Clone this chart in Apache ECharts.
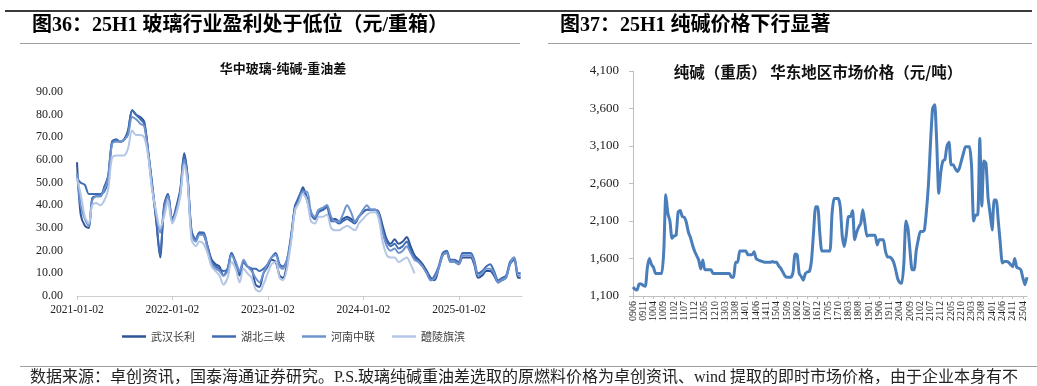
<!DOCTYPE html>
<html>
<head>
<meta charset="utf-8">
<script src="https://cdn.jsdelivr.net/npm/echarts@6/dist/echarts.min.js"></script>
<style>
html,body{margin:0;padding:0;background:#fff;}
#main{width:1037px;height:386px;}
</style>
</head>
<body>
<div id="main"></div>
<script>
// ---------- Left chart data: 华中玻璃-纯碱-重油差 (元/重箱) ----------
const leftDates = [
'2021-01-02','2021-01-16','2021-02-01','2021-02-16','2021-03-01','2021-03-16','2021-04-01','2021-04-16','2021-05-01','2021-05-16',
'2021-06-01','2021-06-16','2021-07-01','2021-07-16','2021-08-01','2021-08-16','2021-09-01','2021-09-16','2021-10-01','2021-10-16',
'2021-11-01','2021-11-16','2021-12-01','2021-12-16','2022-01-01','2022-01-16','2022-02-01','2022-02-16','2022-03-01','2022-03-16',
'2022-04-01','2022-04-16','2022-05-01','2022-05-16','2022-06-01','2022-06-16','2022-07-01','2022-07-16','2022-08-01','2022-08-16',
'2022-09-01','2022-09-16','2022-10-01','2022-10-16','2022-11-01','2022-11-16','2022-12-01','2022-12-16','2023-01-01','2023-01-16',
'2023-02-01','2023-02-16','2023-03-01','2023-03-16','2023-04-01','2023-04-16','2023-05-01','2023-05-16','2023-06-01','2023-06-16',
'2023-07-01','2023-07-16','2023-08-01','2023-08-16','2023-09-01','2023-09-16','2023-10-01','2023-10-16','2023-11-01','2023-11-16',
'2023-12-01','2023-12-16','2024-01-01','2024-01-16','2024-02-01','2024-02-16','2024-03-01','2024-03-16','2024-04-01','2024-04-16',
'2024-05-01','2024-05-16','2024-06-01','2024-06-16','2024-07-01','2024-07-16','2024-08-01','2024-08-16','2024-09-01','2024-09-16',
'2024-10-01','2024-10-16','2024-11-01','2024-11-16','2024-12-01','2024-12-16','2025-01-01','2025-01-16','2025-02-01','2025-02-16',
'2025-03-01','2025-03-16','2025-04-01','2025-04-16','2025-05-01','2025-05-16','2025-06-01','2025-06-16','2025-07-01','2025-07-16',
'2025-08-01','2025-08-16','2025-08-26'
];
const wuhanChangli = [
59,36,31,30,43,44,44,48,53,68, 69,68,69,73,82,80,79,77,64,49,
33,17,40,45,33,39,47,63,53,29, 25,28,27,22,16,14,13,9,12,19,
15,9,15,13,12,5,4,10,13,16, 15,9,8,14,26,40,43,48,43,37,
34,38,38,40,34,34,33,34,35,34, 33,35,37,38,38,38,37,31,25,23,
25,23,24,26,22,18,16,14,11,8, 7,12,18,19,15,15,14,17,17,17,
14,8,9,11,11,9,6,7,8,14, 16,8,8
];
const hubeiSanxia = [
52,50,49,45,45,45,45,46,51,68, 69,68,69,72,82,80,78,76,64,50,
34,18,39,45,34,38,46,62,52,28, 25,28,28,22,15,13,12,11,12,19,
14,10,15,13,12,12,11,12,14,17, 19,14,13,16,27,39,44,47,42,36,
34,37,38,39,33,33,32,33,34,33, 32,35,37,38,38,38,36,29,24,22,
23,21,22,24,20,17,15,13,10,7, 9,13,19,20,16,16,15,19,19,19,
16,10,11,13,14,11,7,8,9,15, 17,10,10
];
const henanZhonglian = [
54,40,34,31,42,44,44,47,52,67, 68,68,69,71,79,78,76,75,63,48,
36,28,38,44,33,37,45,60,52,27, 24,27,27,21,14,12,11,9,11,18,
15,11,16,13,11,8,6,10,14,17, 18,13,12,16,25,38,42,46,46,37,
35,38,39,40,35,33,33,36,40,37, 33,35,38,40,38,38,36,28,22,20,
21,19,20,22,19,16,15,13,10,7, 8,12,18,19,15,15,14,18,18,18,
15,9,10,12,12,10,6,7,8,14, 17,9,9
];
const lilingQibin = [
52,45,35,32,40,41,40,42,47,61, 62,62,62,65,73,71,71,70,62,47,
37,30,35,42,32,36,44,58,50,25, 22,24,23,19,13,11,9,5,8,15,
12,6,12,10,8,3,2,5,10,14, 15,8,7,12,24,38,41,45,42,33,
32,35,35,36,30,29,29,30,31,30, 29,32,34,36,37,37,34,24,18,17,
17,15,16,17,14,10
];
const leftSeriesNames = ['武汉长利','湖北三峡','河南中联','醴陵旗滨'];
const leftTickDates = ['2021-01-02','2022-01-02','2023-01-02','2024-01-02','2025-01-02'];

// ---------- Right chart data: 纯碱（重质）华东地区市场价格（元/吨） ----------
const rightMonths = [
'0906','0907','0908','0909','0910','0911','0912',
'1001','1002','1003','1004','1005','1006','1007','1008','1009','1010','1011','1012',
'1101','1102','1103','1104','1105','1106','1107','1108','1109','1110','1111','1112',
'1201','1202','1203','1204','1205','1206','1207','1208','1209','1210','1211','1212',
'1301','1302','1303','1304','1305','1306','1307','1308','1309','1310','1311','1312',
'1401','1402','1403','1404','1405','1406','1407','1408','1409','1410','1411','1412',
'1501','1502','1503','1504','1505','1506','1507','1508','1509','1510','1511','1512',
'1601','1602','1603','1604','1605','1606','1607','1608','1609','1610','1611','1612',
'1701','1702','1703','1704','1705','1706','1707','1708','1709','1710','1711','1712',
'1801','1802','1803','1804','1805','1806','1807','1808','1809','1810','1811','1812',
'1901','1902','1903','1904','1905','1906','1907','1908','1909','1910','1911','1912',
'2001','2002','2003','2004','2005','2006','2007','2008','2009','2010','2011','2012',
'2101','2102','2103','2104','2105','2106','2107','2108','2109','2110','2111','2112',
'2201','2202','2203','2204','2205','2206','2207','2208','2209','2210','2211','2212',
'2301','2302','2303','2304','2305','2306','2307','2308','2309','2310','2311','2312',
'2401','2402','2403','2404','2405','2406','2407','2408','2409','2410','2411','2412',
'2501','2502','2503','2504','2505','2506'
];
const sodaAshPrice = [
1220,1190,1180,1260,1260,1240,1230,1480,1600,1520,
1480,1400,1400,1400,1400,1700,2450,2200,2100,1870,
1900,1910,2220,2240,2160,2150,2080,1950,1880,1780,
1700,1640,1580,1460,1580,1450,1450,1450,1450,1400,
1400,1400,1400,1400,1400,1400,1400,1400,1350,1350,
1550,1550,1700,1700,1700,1700,1650,1650,1650,1690,
1600,1580,1570,1560,1550,1550,1550,1550,1560,1550,
1550,1500,1470,1420,1370,1350,1350,1350,1420,1660,
1650,1400,1360,1310,1400,1420,1430,1580,1950,2290,
2290,1950,1700,1700,1700,1700,1700,2200,2400,2400,
2400,2290,1890,1760,1930,2160,2160,2240,1850,1950,
2020,2070,2250,2070,1900,1910,1910,1910,1910,1780,
1850,1850,1850,1700,1620,1620,1600,1550,1450,1330,
1280,1270,1540,2100,2000,1700,1450,1450,1700,1850,
1960,1960,1980,2240,2600,3150,3600,3650,3150,2470,
2750,2900,2920,3100,3150,2850,2850,2800,2760,2800,
2900,3000,3090,3090,3090,2820,2100,2180,2180,3200,
2300,2900,2870,2420,2200,1980,2380,2380,2100,1800,
1540,1560,1560,1550,1520,1490,1600,1480,1470,1450,
1340,1250,1350
];

// ---------- helpers ----------
function toTs(s){ const p = s.split('-'); return Date.UTC(+p[0], +p[1]-1, +p[2]); }
function pad(n){ return (n < 10 ? '0' : '') + n; }
function fmtDate(v){ const d = new Date(v); return d.getUTCFullYear() + '-' + pad(d.getUTCMonth()+1) + '-' + pad(d.getUTCDate()); }
function pairs(arr){ const out = []; for (let i = 0; i < arr.length; i++) { if (arr[i] != null) out.push([toTs(leftDates[i]), arr[i]]); } return out; }

const SERIF = '"Liberation Serif", "Times New Roman", "Noto Sans CJK SC", serif';
const CJK = '"Noto Sans CJK SC", "Liberation Serif", sans-serif';
const TITLE_FONT = '"Liberation Serif", "Noto Sans CJK SC", serif';
const leftColors = ['#2E5597', '#3F6DB5', '#6E93CE', '#B3C6E6'];
const leftData = [wuhanChangli, hubeiSanxia, henanZhonglian, lilingQibin];
const leftTickTs = leftTickDates.map(toTs);

const chart = echarts.init(document.getElementById('main'), null, {renderer: 'canvas'});

const option = {
  backgroundColor: '#ffffff',
  animation: false,
  graphic: [
    {type: 'line', shape: {x1: 5, y1: 11, x2: 1032, y2: 11}, style: {stroke: '#3a3a3a', lineWidth: 2}},
    {type: 'line', shape: {x1: 20, y1: 43.5, x2: 520, y2: 43.5}, style: {stroke: '#a0a0a0', lineWidth: 1}},
    {type: 'line', shape: {x1: 548, y1: 43.5, x2: 1032, y2: 43.5}, style: {stroke: '#a0a0a0', lineWidth: 1}},
    {type: 'line', shape: {x1: 20, y1: 366.5, x2: 1037, y2: 366.5}, style: {stroke: '#a0a0a0', lineWidth: 1}},
    {type: 'text', x: 32, y: 26, style: {text: '图36：25H1 玻璃行业盈利处于低位（元/重箱）', font: 'bold 20px ' + TITLE_FONT, fill: '#000', verticalAlign: 'middle', align: 'left'}},
    {type: 'text', x: 560, y: 26, style: {text: '图37：25H1 纯碱价格下行显著', font: 'bold 20px ' + TITLE_FONT, fill: '#000', verticalAlign: 'middle', align: 'left'}},
    {type: 'text', x: 283, y: 68, style: {text: '华中玻璃-纯碱-重油差', font: 'bold 13px ' + CJK, fill: '#111', verticalAlign: 'middle', align: 'center'}},
    {type: 'text', x: 818, y: 72, style: {text: '纯碱（重质） 华东地区市场价格（元/吨）', font: 'bold 15.5px ' + CJK, fill: '#111', verticalAlign: 'middle', align: 'center'}},
    {type: 'text', x: 30, y: 378, style: {text: '数据来源：卓创资讯，国泰海通证券研究。P.S.玻璃纯碱重油差选取的原燃料价格为卓创资讯、wind 提取的即时市场价格，由于企业本身有不', font: '16px ' + TITLE_FONT, fill: '#222', verticalAlign: 'middle', align: 'left'}}
  ],
  legend: {
    data: leftSeriesNames,
    left: 117, top: 326,
    icon: 'rect', itemWidth: 24, itemHeight: 2.5, itemGap: 17,
    textStyle: {fontSize: 11, fontFamily: CJK, color: '#404040'}
  },
  grid: [
    {left: 77, right: 515, top: 92, bottom: 90, containLabel: false},
    {left: 633, right: 10, top: 71, bottom: 90, containLabel: false}
  ],
  xAxis: [
    {
      type: 'value', gridIndex: 0, scale: true,
      min: toTs('2021-01-02'), max: toTs('2025-08-31'),
      axisLine: {show: true, lineStyle: {color: '#d0d0d0', width: 1}},
      axisTick: {show: true, length: 4, lineStyle: {color: '#c8c8c8'}, customValues: leftTickTs},
      axisLabel: {
        customValues: leftTickTs,
        formatter: function(v){ return fmtDate(v); },
        fontFamily: SERIF, fontSize: 11.5, color: '#222', margin: 8, showMinLabel: true, showMaxLabel: true
      },
      splitLine: {show: false}
    },
    {
      type: 'category', gridIndex: 1, data: rightMonths, boundaryGap: false,
      axisLine: {show: true, lineStyle: {color: '#bfbfbf', width: 1}},
      axisTick: {show: true, interval: 4, length: 3, lineStyle: {color: '#bfbfbf'}},
      axisLabel: {interval: 4, rotate: 90, fontFamily: SERIF, fontSize: 10, color: '#222', margin: 5},
      splitLine: {show: false}
    }
  ],
  yAxis: [
    {
      type: 'value', gridIndex: 0, min: 0, max: 90, interval: 10,
      axisLine: {show: false}, axisTick: {show: false}, splitLine: {show: false},
      axisLabel: {formatter: function(v){ return v.toFixed(2); }, fontFamily: SERIF, fontSize: 12, color: '#222', margin: 14}
    },
    {
      type: 'value', gridIndex: 1, min: 1100, max: 4100, interval: 500,
      axisLine: {show: true, lineStyle: {color: '#bfbfbf', width: 1}},
      axisTick: {show: true, length: 4, lineStyle: {color: '#bfbfbf'}},
      splitLine: {show: false},
      axisLabel: {formatter: function(v){ return v.toLocaleString('en-US'); }, fontFamily: SERIF, fontSize: 13, color: '#222', margin: 14}
    }
  ],
  series: leftSeriesNames.map(function(name, i){
    return {
      name: name, type: 'line', xAxisIndex: 0, yAxisIndex: 0,
      data: pairs(leftData[i]), showSymbol: false, symbol: 'none', smooth: 0.3,
      lineStyle: {width: 2, color: leftColors[i]}, itemStyle: {color: leftColors[i]}
    };
  }).concat([{
    name: '纯碱价格', type: 'line', xAxisIndex: 1, yAxisIndex: 1,
    data: sodaAshPrice, showSymbol: false, symbol: 'none', smooth: 0.2,
    lineStyle: {width: 3, color: '#4A7EBB'}, itemStyle: {color: '#4A7EBB'}
  }])
};
chart.setOption(option);
</script>
</body>
</html>
